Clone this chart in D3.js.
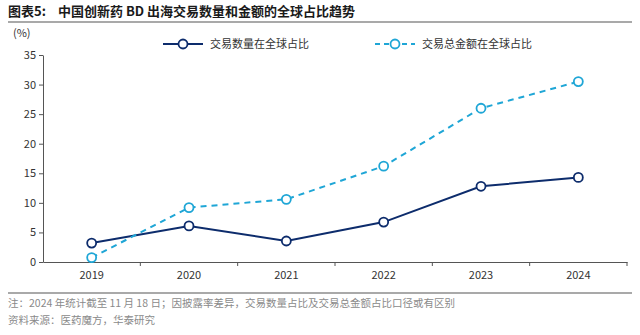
<!DOCTYPE html>
<html>
<head>
<meta charset="utf-8">
<script src="https://cdn.jsdelivr.net/npm/d3@7"></script>
<style>
  body { margin: 0; background: #fff; }
  text { font-family: "Noto Sans CJK SC", "Noto Sans", sans-serif; }
</style>
</head>
<body>
<svg id="chart"></svg>
<script>
const years = ['2019', '2020', '2021', '2022', '2023', '2024'];
const dealCountShare = [3.2, 6.1, 3.55, 6.75, 12.8, 14.3];
const dealValueShare = [0.75, 9.2, 10.6, 16.2, 26.0, 30.5];
const yTicks = [0, 5, 10, 15, 20, 25, 30, 35];

const seriesNames = ['交易数量在全球占比', '交易总金额在全球占比'];
const titleLabel = '图表5:';
const title = '中国创新药 BD 出海交易数量和金额的全球占比趋势';
const notes = [
    '注：2024 年统计截至 11 月 18 日；因披露率差异，交易数量占比及交易总金额占比口径或有区别',
    '资料来源：医药魔方，华泰研究',
];

const W = 640, H = 335;
const margin = { top: 55, right: 13, bottom: 73, left: 43 };
const width = W - margin.left - margin.right;
const height = H - margin.top - margin.bottom;

const svg = d3.select('#chart').attr('width', W).attr('height', H);

svg.append('text')
    .attr('x', 8).attr('y', 16)
    .attr('font-size', 13).attr('font-weight', 'bold').attr('fill', '#1a1a1a')
    .text(titleLabel);
svg.append('text')
    .attr('x', 58).attr('y', 16)
    .attr('font-size', 13).attr('font-weight', 'bold').attr('fill', '#1a1a1a')
    .text(title);
svg.append('line')
    .attr('x1', 8).attr('x2', 632).attr('y1', 22).attr('y2', 22)
    .attr('stroke', '#8c8c8c').attr('stroke-width', 1.5);

const x = d3.scaleBand().domain(years).range([0, width]);
const y = d3.scaleLinear().domain([0, 35]).range([height, 0]);

const g = svg.append('g').attr('transform', `translate(${margin.left},${margin.top})`);

// y axis
const yAxis = g.append('g')
    .call(d3.axisLeft(y).tickValues(yTicks).tickSize(4).tickSizeOuter(0));
yAxis.select('.domain').attr('stroke', '#555');
yAxis.selectAll('.tick line').attr('stroke', '#555');
yAxis.selectAll('text').attr('font-size', 11).attr('fill', '#333')
    .attr('font-family', 'Liberation Sans, Arial, sans-serif');

svg.append('text')
    .attr('x', 13).attr('y', 37)
    .attr('font-size', 11).attr('fill', '#333')
    .text('(%)');

// x axis
const xAxis = g.append('g')
    .attr('transform', `translate(0,${height})`)
    .call(d3.axisBottom(x).tickSize(0).tickSizeOuter(0));
xAxis.select('.domain').attr('stroke', '#555');
xAxis.selectAll('text').attr('font-size', 11).attr('fill', '#333').attr('dy', '1.3em')
    .attr('font-family', 'Liberation Sans, Arial, sans-serif');
g.append('g').selectAll('line')
    .data(years.slice(1).concat(['end']))
    .join('line')
    .attr('x1', (d, i) => x.step() * (i + 1))
    .attr('x2', (d, i) => x.step() * (i + 1))
    .attr('y1', height).attr('y2', height + 4)
    .attr('stroke', '#555');

const cx = d => x(d) + x.bandwidth() / 2;

const series = [
    { name: seriesNames[0], values: dealCountShare, color: '#0d2c6c', dash: null },
    { name: seriesNames[1], values: dealValueShare, color: '#1fa6d6', dash: '6,5' },
];

const line = d3.line().x(d => cx(d.year)).y(d => y(d.v));

series.forEach(s => {
    const pts = years.map((yr, i) => ({ year: yr, v: s.values[i] }));
    g.append('path')
        .datum(pts)
        .attr('fill', 'none')
        .attr('stroke', s.color)
        .attr('stroke-width', 2)
        .attr('stroke-dasharray', s.dash)
        .attr('d', line);
    g.selectAll(null)
        .data(pts)
        .join('circle')
        .attr('cx', d => cx(d.year))
        .attr('cy', d => y(d.v))
        .attr('r', 4.5)
        .attr('fill', '#fff')
        .attr('stroke', s.color)
        .attr('stroke-width', 1.8);
});

// legend
const legendX = [163, 375];
series.forEach((s, i) => {
    const lg = svg.append('g').attr('transform', `translate(${legendX[i]},44)`);
    lg.append('line')
        .attr('x1', 0).attr('x2', 40).attr('y1', 0).attr('y2', 0)
        .attr('stroke', s.color).attr('stroke-width', 2)
        .attr('stroke-dasharray', s.dash ? '5,4' : null);
    lg.append('circle')
        .attr('cx', 20).attr('cy', 0).attr('r', 4.5)
        .attr('fill', '#fff').attr('stroke', s.color).attr('stroke-width', 1.8);
    lg.append('text')
        .attr('x', 47).attr('y', 4)
        .attr('font-size', 11).attr('fill', '#333')
        .text(s.name);
});

// footer
svg.append('line')
    .attr('x1', 8).attr('x2', 632).attr('y1', 293).attr('y2', 293)
    .attr('stroke', '#8c8c8c').attr('stroke-width', 1.5);
svg.selectAll('.note')
    .data(notes)
    .join('text')
    .attr('class', 'note')
    .attr('x', 8)
    .attr('y', (d, i) => 307 + i * 17)
    .attr('font-size', 10.5).attr('fill', '#8a8a8a')
    .text(d => d);
</script>
</body>
</html>
